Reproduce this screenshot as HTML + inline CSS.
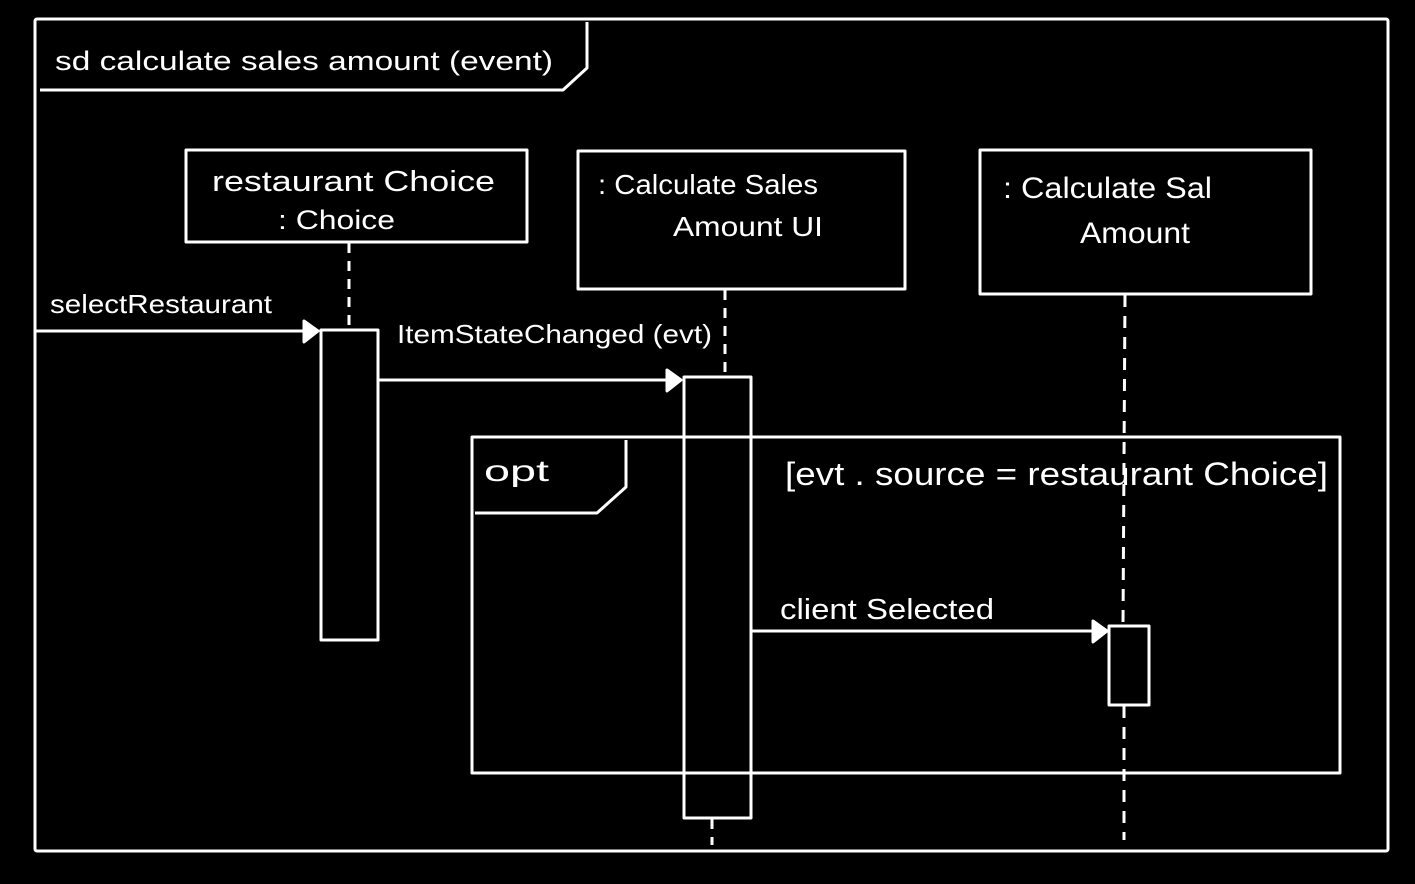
<!DOCTYPE html>
<html><head><meta charset="utf-8"><style>
html,body{margin:0;padding:0;background:#000;}
svg{display:block;}
text{fill:#fff;font-family:"Liberation Sans",sans-serif;}
</style></head><body>
<svg width="1415" height="884" viewBox="0 0 1415 884" xmlns="http://www.w3.org/2000/svg">
<rect width="1415" height="884" fill="#000"/>
<g stroke="#fff" stroke-width="3" fill="none" stroke-linejoin="round">
<rect x="35" y="19" width="1353" height="832" rx="2"/>
<polyline points="40,90 563,90 587,68 587,22"/>
<rect x="186" y="150" width="341" height="92"/>
<rect x="578" y="151" width="327" height="138"/>
<rect x="980" y="150" width="331" height="144"/>
<line x1="349" y1="243" x2="349" y2="330" stroke-dasharray="10,8"/>
<line x1="725" y1="290" x2="725" y2="377" stroke-dasharray="10,8"/>
<line x1="712" y1="819" x2="712" y2="845" stroke-dasharray="10,8"/>
<line x1="1125" y1="295" x2="1123" y2="625" stroke-dasharray="12,9"/>
<line x1="1124" y1="706" x2="1124" y2="840" stroke-dasharray="12,9"/>
<rect x="472" y="437" width="868" height="336"/>
<polyline points="475,513 597,513 626,487 626,440"/>
<rect x="321" y="330" width="57" height="310"/>
<rect x="684" y="377" width="67" height="441"/>
<rect x="1109" y="626" width="40" height="79"/>
<line x1="35" y1="331" x2="316" y2="331"/>
<polygon points="304,321 318,331 304,342" fill="#fff"/>
<line x1="378" y1="380" x2="679" y2="380"/>
<polygon points="667,370 681,380 667,391" fill="#fff"/>
<line x1="751" y1="631" x2="1104" y2="631"/>
<polygon points="1093,621 1107,631 1093,642" fill="#fff"/>
</g>
<text x="55" y="70" font-size="27" textLength="498" lengthAdjust="spacingAndGlyphs">sd calculate sales amount (event)</text>
<text x="212" y="191" font-size="29" textLength="283" lengthAdjust="spacingAndGlyphs">restaurant Choice</text>
<text x="278" y="229" font-size="27" textLength="117" lengthAdjust="spacingAndGlyphs">: Choice</text>
<text x="598" y="194" font-size="28" textLength="220" lengthAdjust="spacingAndGlyphs">: Calculate Sales</text>
<text x="673" y="236" font-size="28" textLength="150" lengthAdjust="spacingAndGlyphs">Amount UI</text>
<text x="1003" y="198" font-size="30" textLength="209" lengthAdjust="spacingAndGlyphs">: Calculate Sal</text>
<text x="1080" y="243" font-size="30" textLength="110" lengthAdjust="spacingAndGlyphs">Amount</text>
<text x="50" y="313" font-size="26" textLength="222" lengthAdjust="spacingAndGlyphs">selectRestaurant</text>
<text x="397" y="343" font-size="26" textLength="315" lengthAdjust="spacingAndGlyphs">ItemStateChanged (evt)</text>
<text x="484" y="481" font-size="30" textLength="65" lengthAdjust="spacingAndGlyphs">opt</text>
<text x="785" y="485" font-size="32" textLength="543" lengthAdjust="spacingAndGlyphs">[evt . source = restaurant Choice]</text>
<text x="780" y="619" font-size="29" textLength="214" lengthAdjust="spacingAndGlyphs">client Selected</text>
</svg>
</body></html>
